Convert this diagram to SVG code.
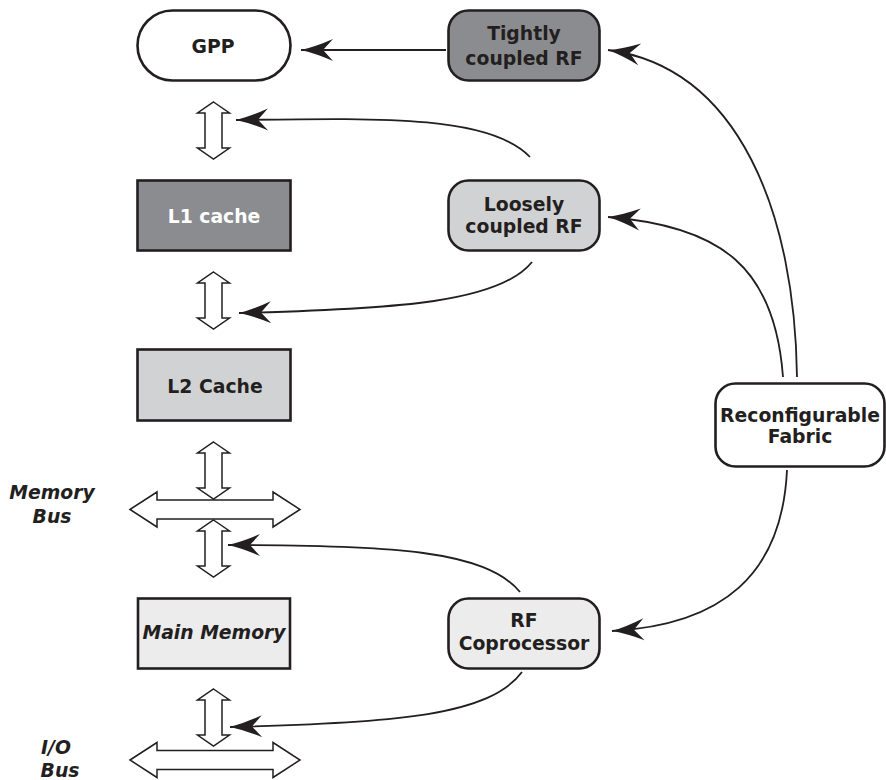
<svg xmlns="http://www.w3.org/2000/svg" width="886" height="780" viewBox="0 0 886 780">
  <defs>
    <style>
      .node { stroke: #231f20; stroke-width: 2.6; }
      .dark { fill: #8b8c8f; }
      .mid { fill: #d1d2d4; }
      .light { fill: #ececec; }
      .white { fill: #ffffff; }
      .lbl { font-family: "DejaVu Sans", "Liberation Sans", sans-serif; font-weight: bold; font-size: 18.8px; fill: #231f20; text-anchor: middle; }
      .it { font-style: italic; }
      .bus { fill: #ffffff; stroke: #231f20; stroke-width: 1.5; stroke-linejoin: miter; }
      .link { fill: none; stroke: #231f20; stroke-width: 1.8; marker-end: url(#head); }
    </style>
    <marker id="head" markerUnits="userSpaceOnUse" markerWidth="40" markerHeight="28" viewBox="-35 -14 38 28" refX="0" refY="0" orient="auto">
      <path d="M0,0 Q-15,-3.5 -32,-11 L-22,0 L-32,11 Q-15,3.5 0,0 Z" fill="#231f20"/>
    </marker>
    <!-- vertical two-headed hollow arrow, 57 tall, centred on x=0, top at y=0 -->
    <path id="vbus" d="M0,0 L16,11 L8.5,11 L8.5,46 L16,46 L0,57 L-16,46 L-8.5,46 L-8.5,11 L-16,11 Z"/>
    <!-- horizontal two-headed hollow arrow, 170 wide, centred on y=0 -->
    <path id="hbus" d="M0,0 L27,-17.5 L27,-9.5 L143,-9.5 L143,-17.5 L170,0 L143,17.5 L143,9.5 L27,9.5 L27,17.5 Z"/>
  </defs>

  <rect width="886" height="780" fill="#ffffff"/>

  <!-- bus and port arrows on the memory hierarchy -->
  <g id="buses">
    <use href="#vbus" class="bus" x="213.5" y="102"/>
    <use href="#vbus" class="bus" x="213.5" y="272"/>
    <use href="#vbus" class="bus" x="213.5" y="442"/>
    <use href="#hbus" class="bus" x="130" y="509.5"/>
    <use href="#vbus" class="bus" x="213.5" y="520"/>
    <use href="#vbus" class="bus" x="213.5" y="689"/>
    <use href="#hbus" class="bus" x="130" y="760"/>
  </g>

  <g id="bus-labels">
    <text class="lbl it" x="52" y="499">Memory</text>
    <text class="lbl it" x="52" y="523">Bus</text>
    <text class="lbl it" x="56" y="754">I/O</text>
    <text class="lbl it" x="60" y="777">Bus</text>
  </g>

  <!-- connectors -->
  <g id="connectors">
    <path class="link" d="M446,50 L301,50"/>
    <path class="link" d="M530,157 C490,115 380,118 236,120"/>
    <path class="link" d="M532,262 C500,302 400,309 239,313"/>
    <path class="link" d="M520,592 C485,550 390,545 228,545"/>
    <path class="link" d="M522,672 C490,715 400,723 230,727"/>
    <path class="link" d="M797,377 C795,215 740,68 608,50"/>
    <path class="link" d="M783,377 C775,268 722,226 608,217"/>
    <path class="link" d="M787,470 C782,575 722,625 612,631"/>
  </g>

  <!-- nodes -->
  <g id="gpp">
    <rect class="node white" x="137.5" y="10.5" width="153" height="70" rx="35"/>
    <text class="lbl" x="213" y="53">GPP</text>
  </g>
  <g id="l1-cache">
    <rect class="node dark" x="137.5" y="180.5" width="153" height="70"/>
    <text class="lbl" x="214" y="222.5" style="fill:#ffffff">L1 cache</text>
  </g>
  <g id="l2-cache">
    <rect class="node mid" x="137.5" y="349.5" width="153" height="71"/>
    <text class="lbl" x="215" y="393">L2 Cache</text>
  </g>
  <g id="main-memory">
    <rect class="node light" x="138" y="598.5" width="152" height="70"/>
    <text class="lbl it" x="214" y="639">Main Memory</text>
  </g>
  <g id="tightly-coupled-rf">
    <rect class="node dark" x="448.5" y="10.5" width="151" height="70" rx="20"/>
    <text class="lbl" x="524" y="39.5">Tightly</text>
    <text class="lbl" x="524" y="64.5">coupled RF</text>
  </g>
  <g id="loosely-coupled-rf">
    <rect class="node mid" x="448.5" y="180.5" width="151" height="70" rx="20"/>
    <text class="lbl" x="524" y="211">Loosely</text>
    <text class="lbl" x="524" y="233">coupled RF</text>
  </g>
  <g id="rf-coprocessor">
    <rect class="node light" x="448.5" y="598.5" width="151" height="70" rx="20"/>
    <text class="lbl" x="524" y="627">RF</text>
    <text class="lbl" x="524" y="650">Coprocessor</text>
  </g>
  <g id="reconfigurable-fabric">
    <rect class="node white" x="715.5" y="383.5" width="169" height="83" rx="20"/>
    <text class="lbl" x="800" y="422">Reconfigurable</text>
    <text class="lbl" x="800" y="443">Fabric</text>
  </g>
</svg>
